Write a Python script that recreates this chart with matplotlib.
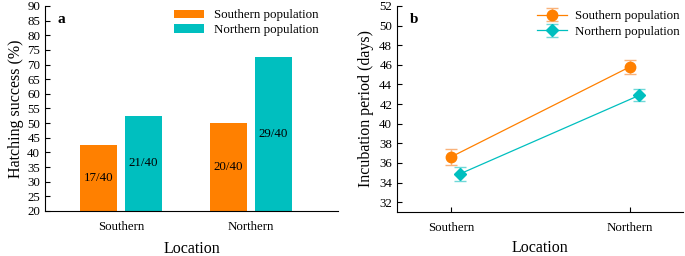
import matplotlib
matplotlib.use('Agg')
import matplotlib.pyplot as plt
import numpy as np

plt.rcParams['font.family'] = ['Liberation Serif', 'DejaVu Serif']

# panel a: hatching success
locations = ['Southern', 'Northern']
hatch_south = [42.5, 50.0]
hatch_north = [52.5, 72.5]
counts_south = ['17/40', '20/40']
counts_north = ['21/40', '29/40']

# panel b: incubation period
incub_south = [36.6, 45.8]
incub_south_err = [0.8, 0.7]
incub_north = [34.9, 42.9]
incub_north_err = [0.7, 0.6]

orange = '#ff8000'
teal = '#00bfbf'
tick_fs = 9.3
label_fs = 11.5

fig = plt.figure(figsize=(6.85, 2.56), dpi=100)
ax1 = fig.add_axes([0.0657, 0.1758, 0.4277, 0.8008])
ax2 = fig.add_axes([0.5796, 0.1719, 0.4175, 0.8047])

for ax in (ax1, ax2):
    ax.spines['top'].set_visible(False)
    ax.spines['right'].set_visible(False)
    ax.tick_params(direction='in', length=3.5, width=0.8, labelsize=tick_fs)

# --- a ---
x = np.arange(len(locations))
w = 0.285
off = 0.173
base = 20
ax1.bar(x - off, np.array(hatch_south) - base, w, bottom=base, color=orange,
        label='Southern population')
ax1.bar(x + off, np.array(hatch_north) - base, w, bottom=base, color=teal,
        label='Northern population')
for i in range(len(x)):
    ax1.text(x[i] - off, (base + hatch_south[i]) / 2, counts_south[i],
             ha='center', va='center', fontsize=tick_fs)
    ax1.text(x[i] + off, (base + hatch_north[i]) / 2, counts_north[i],
             ha='center', va='center', fontsize=tick_fs)
ax1.set_xlim(-0.585, 1.67)
ax1.set_ylim(20, 90)
ax1.set_yticks(np.arange(20, 91, 5))
ax1.set_xticks(x)
ax1.set_xticklabels(locations)
ax1.tick_params(axis='x', length=0, pad=7)
ax1.set_xlabel('Location', fontsize=label_fs, labelpad=6)
ax1.set_ylabel('Hatching success (%)', fontsize=label_fs, labelpad=2)
ax1.text(0.044, 0.965, 'a', transform=ax1.transAxes, fontweight='bold',
         fontsize=11, va='top')
ax1.legend(loc='upper right', frameon=False, fontsize=tick_fs,
           handlelength=2.3, handleheight=0.6, borderaxespad=0.1,
           labelspacing=0.2, bbox_to_anchor=(0.956, 1.015))

# --- b ---
ax2.errorbar(x, incub_south, yerr=incub_south_err, color=orange, marker='o',
             markersize=7.5, linewidth=0.9, capsize=4.5, elinewidth=1.0,
             ecolor='#f9b27a', label='Southern population')
ax2.errorbar(x + 0.053, incub_north, yerr=incub_north_err, color=teal,
             marker='D', markersize=6.5, linewidth=0.9, capsize=4.5,
             elinewidth=1.0, ecolor='#6fd8d8', label='Northern population')
ax2.set_xlim(-0.30, 1.296)
ax2.set_ylim(31, 52)
ax2.set_yticks(np.arange(32, 53, 2))
ax2.set_xticks(x)
ax2.set_xticklabels(locations)
ax2.tick_params(axis='x', pad=7)
ax2.set_xlabel('Location', fontsize=label_fs, labelpad=4.5)
ax2.set_ylabel('Incubation period (days)', fontsize=label_fs, labelpad=4)
ax2.text(0.045, 0.965, 'b', transform=ax2.transAxes, fontweight='bold',
         fontsize=11, va='top')
ax2.legend(loc='upper right', frameon=False, fontsize=tick_fs,
           handlelength=2.3, borderaxespad=0.1, labelspacing=0.25,
           handletextpad=0.6, bbox_to_anchor=(1.01, 1.01))

fig.savefig('out.png', dpi=100)
